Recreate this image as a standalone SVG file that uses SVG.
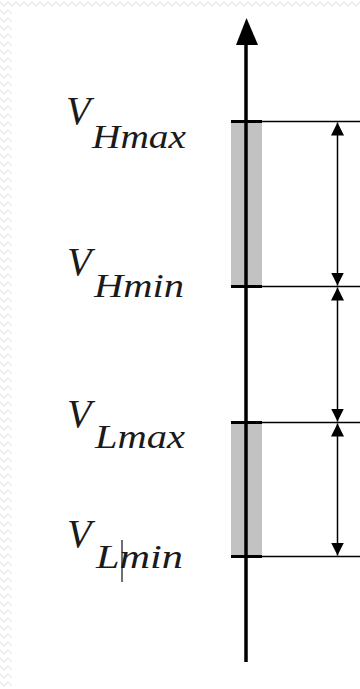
<svg xmlns="http://www.w3.org/2000/svg" width="360" height="689" viewBox="0 0 360 689">
  <defs>
    <pattern id="zz" width="8" height="8" patternUnits="userSpaceOnUse">
      <path d="M0,2 L4,6 L8,2" fill="none" stroke="#e8e8e8" stroke-width="1.2"/>
    </pattern>
    <marker id="ah" viewBox="0 0 10 10" refX="10" refY="5" markerWidth="13" markerHeight="13" markerUnits="userSpaceOnUse" orient="auto-start-reverse">
      <path d="M0,0 L10,5 L0,10 Z" fill="#000"/>
    </marker>
    <style>
      .v { font-family: "Liberation Serif", "Times New Roman", serif; font-style: italic; font-size: 40px; fill: #1a1a1a; }
      .sub { font-family: "Liberation Serif", "Times New Roman", serif; font-style: italic; font-size: 34px; fill: #1a1a1a; }
      .bar { fill: #c2c2c2; }
      .tick { stroke: #000; stroke-width: 3; }
      .ref { stroke: #000; stroke-width: 1.5; }
      .dim { stroke: #000; stroke-width: 1.5; marker-start: url(#ah); marker-end: url(#ah); }
    </style>
  </defs>
  <rect width="360" height="689" fill="#fff"/>
  <rect x="0" y="0" width="360" height="8" fill="url(#zz)"/>
  <rect x="0" y="8" width="12" height="681" fill="url(#zz)"/>

  <g id="band-high">
    <rect class="bar" x="231" y="122" width="31" height="164"/>
  </g>
  <g id="band-low">
    <rect class="bar" x="231" y="422" width="31" height="134"/>
  </g>

  <g id="axis">
    <line x1="246" y1="44" x2="246" y2="662" stroke="#000" stroke-width="3.5"/>
    <polygon points="246.5,18 236,45 258,45" fill="#000"/>
  </g>

  <g id="label-VHmax">
    <text class="v" x="66" y="124">V</text>
    <text class="sub" x="92" y="148" textLength="94" lengthAdjust="spacingAndGlyphs">Hmax</text>
  </g>
  <g id="label-VHmin">
    <text class="v" x="67" y="275">V</text>
    <text class="sub" x="94" y="297" textLength="90" lengthAdjust="spacingAndGlyphs">Hmin</text>
  </g>
  <g id="label-VLmax">
    <text class="v" x="67" y="427">V</text>
    <text class="sub" x="95" y="448" textLength="90" lengthAdjust="spacingAndGlyphs">Lmax</text>
  </g>
  <g id="label-VLmin">
    <text class="v" x="67" y="547">V</text>
    <text class="sub" x="96" y="568" textLength="87" lengthAdjust="spacingAndGlyphs">Lmin</text>
    <line x1="122" y1="540" x2="122" y2="582" stroke="#111" stroke-width="1.2"/>
  </g>

  <g id="connectors">
    <line class="tick" x1="231" y1="121.5" x2="262" y2="121.5"/>
    <line class="tick" x1="231" y1="286.5" x2="262" y2="286.5"/>
    <line class="tick" x1="231" y1="422.5" x2="262" y2="422.5"/>
    <line class="tick" x1="231" y1="556.5" x2="262" y2="556.5"/>
    <line class="ref" x1="262" y1="121.5" x2="360" y2="121.5"/>
    <line class="ref" x1="262" y1="286.5" x2="360" y2="286.5"/>
    <line class="ref" x1="262" y1="422.5" x2="360" y2="422.5"/>
    <line class="ref" x1="262" y1="556.5" x2="360" y2="556.5"/>
    <line class="dim" x1="337.5" y1="122.5" x2="337.5" y2="285.5"/>
    <line class="dim" x1="337.5" y1="287.5" x2="337.5" y2="421.5"/>
    <line class="dim" x1="337.5" y1="423.5" x2="337.5" y2="555.5"/>
  </g>
</svg>
